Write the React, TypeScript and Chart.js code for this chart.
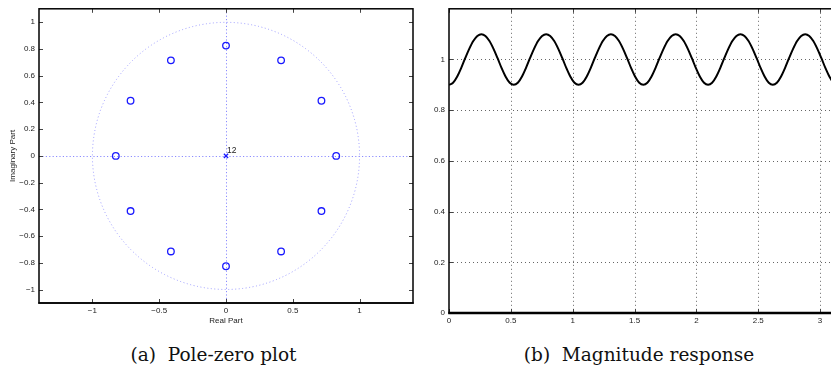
import { useEffect, useRef } from "react";
import { Chart, registerables } from "chart.js";

Chart.register(...registerables);

// Zeros of the comb filter (12 evenly spaced, radius ~0.825)
const zeroRe = [0.825, 0.7145, 0.4125, 0, -0.4125, -0.7145, -0.825, -0.7145, -0.4125, 0, 0.4125, 0.7145];
const zeroIm = [0, 0.4125, 0.7145, 0.825, 0.7145, 0.4125, 0, -0.4125, -0.7145, -0.825, -0.7145, -0.4125];

// Poles: a 12th-order pole at the origin
const poleRe = [0];
const poleIm = [0];
const poleOrder = ["12"];

const reTicks = [-1, -0.5, 0, 0.5, 1];
const imTicks = [-1, -0.8, -0.6, -0.4, -0.2, 0, 0.2, 0.4, 0.6, 0.8, 1];

// Magnitude response |H(w)| on 0..pi
const omega = [
  0, 0.0327, 0.0654, 0.0982, 0.1309, 0.1636, 0.1963, 0.2291,
  0.2618, 0.2945, 0.3272, 0.36, 0.3927, 0.4254, 0.4581, 0.4909,
  0.5236, 0.5563, 0.589, 0.6218, 0.6545, 0.6872, 0.7199, 0.7527,
  0.7854, 0.8181, 0.8508, 0.8836, 0.9163, 0.949, 0.9817, 1.0145,
  1.0472, 1.0799, 1.1126, 1.1454, 1.1781, 1.2108, 1.2435, 1.2763,
  1.309, 1.3417, 1.3744, 1.4072, 1.4399, 1.4726, 1.5053, 1.5381,
  1.5708, 1.6035, 1.6362, 1.669, 1.7017, 1.7344, 1.7671, 1.7999,
  1.8326, 1.8653, 1.898, 1.9308, 1.9635, 1.9962, 2.0289, 2.0617,
  2.0944, 2.1271, 2.1598, 2.1926, 2.2253, 2.258, 2.2907, 2.3235,
  2.3562, 2.3889, 2.4216, 2.4544, 2.4871, 2.5198, 2.5525, 2.5853,
  2.618, 2.6507, 2.6834, 2.7162, 2.7489, 2.7816, 2.8143, 2.8471,
  2.8798, 2.9125, 2.9452, 2.978, 3.0107, 3.0434, 3.0761, 3.1089,
  3.1416,
];
const magnitude = [
  0.9, 0.908, 0.932, 0.966, 1.005, 1.042, 1.073, 1.093,
  1.1, 1.093, 1.073, 1.042, 1.005, 0.966, 0.932, 0.908,
  0.9, 0.908, 0.932, 0.966, 1.005, 1.042, 1.073, 1.093,
  1.1, 1.093, 1.073, 1.042, 1.005, 0.966, 0.932, 0.908,
  0.9, 0.908, 0.932, 0.966, 1.005, 1.042, 1.073, 1.093,
  1.1, 1.093, 1.073, 1.042, 1.005, 0.966, 0.932, 0.908,
  0.9, 0.908, 0.932, 0.966, 1.005, 1.042, 1.073, 1.093,
  1.1, 1.093, 1.073, 1.042, 1.005, 0.966, 0.932, 0.908,
  0.9, 0.908, 0.932, 0.966, 1.005, 1.042, 1.073, 1.093,
  1.1, 1.093, 1.073, 1.042, 1.005, 0.966, 0.932, 0.908,
  0.9, 0.908, 0.932, 0.966, 1.005, 1.042, 1.073, 1.093,
  1.1, 1.093, 1.073, 1.042, 1.005, 0.966, 0.932, 0.908,
  0.9,
];
const omegaTicks = [0, 0.5, 1, 1.5, 2, 2.5, 3];
const magTicks = [0, 0.2, 0.4, 0.6, 0.8, 1];

const SANS = "'Liberation Sans', Arial, sans-serif";
const tickFont = { family: SANS, size: 8 };
const fmt = (v: number) => String(v).replace("-", "\u2212");

const fixedTicks = (values: number[]) => (axis: any) => {
  axis.ticks = values.map((value) => ({ value }));
};

// Box around the plot area with MATLAB-style inward tick marks
const framePlugin = (bottomWidth: number) => ({
  id: "frame",
  afterDatasetsDraw(chart: any) {
    const { ctx, chartArea, scales } = chart;
    const { left, right, top, bottom } = chartArea;
    ctx.save();
    ctx.strokeStyle = "#444";
    ctx.lineWidth = 1;
    ctx.beginPath();
    for (const t of scales.x.ticks) {
      const px = Math.round(scales.x.getPixelForValue(t.value)) + 0.5;
      ctx.moveTo(px, bottom);
      ctx.lineTo(px, bottom - 4);
      ctx.moveTo(px, top);
      ctx.lineTo(px, top + 4);
    }
    for (const t of scales.y.ticks) {
      const py = Math.round(scales.y.getPixelForValue(t.value)) + 0.5;
      ctx.moveTo(left, py);
      ctx.lineTo(left + 4, py);
      ctx.moveTo(right, py);
      ctx.lineTo(right - 4, py);
    }
    ctx.stroke();
    ctx.strokeStyle = "#000";
    ctx.lineWidth = 1.5;
    ctx.strokeRect(left, top, right - left, bottom - top);
    ctx.lineWidth = bottomWidth;
    ctx.beginPath();
    ctx.moveTo(left - 0.75, bottom);
    ctx.lineTo(right + 0.75, bottom);
    ctx.stroke();
    ctx.restore();
  },
});

// Unit circle and the real/imaginary axes, dotted
const zPlaneGuides = {
  id: "zPlaneGuides",
  beforeDatasetsDraw(chart: any) {
    const { ctx, chartArea, scales } = chart;
    const { left, right, top, bottom } = chartArea;
    const cx = scales.x.getPixelForValue(0);
    const cy = scales.y.getPixelForValue(0);
    const r = scales.x.getPixelForValue(1) - cx;
    ctx.save();
    ctx.strokeStyle = "#9a9aff";
    ctx.lineWidth = 1;
    ctx.setLineDash([1, 2.5]);
    ctx.beginPath();
    ctx.arc(cx, cy, r, 0, Math.PI * 2);
    ctx.stroke();
    ctx.strokeStyle = "#8c8cff";
    ctx.setLineDash([1.2, 2.2]);
    ctx.beginPath();
    ctx.moveTo(left, Math.round(cy) + 0.5);
    ctx.lineTo(right, Math.round(cy) + 0.5);
    ctx.moveTo(Math.round(cx) + 0.5, top);
    ctx.lineTo(Math.round(cx) + 0.5, bottom);
    ctx.stroke();
    ctx.restore();
  },
  afterDatasetsDraw(chart: any) {
    const { ctx, scales } = chart;
    ctx.save();
    ctx.fillStyle = "#222";
    ctx.font = `8.5px ${SANS}`;
    ctx.textAlign = "left";
    ctx.textBaseline = "bottom";
    poleRe.forEach((re, i) => {
      const px = scales.x.getPixelForValue(re);
      const py = scales.y.getPixelForValue(poleIm[i]);
      ctx.fillText(poleOrder[i], px + 1, py - 1);
    });
    ctx.restore();
  },
};

// Dotted grid for the magnitude plot
const dottedGrid = {
  id: "dottedGrid",
  beforeDatasetsDraw(chart: any) {
    const { ctx, chartArea, scales } = chart;
    const { left, right, top, bottom } = chartArea;
    ctx.save();
    ctx.strokeStyle = "rgba(0,0,0,0.6)";
    ctx.lineWidth = 1;
    ctx.setLineDash([1, 3]);
    ctx.beginPath();
    for (const t of scales.x.ticks) {
      if (t.value === 0) continue;
      const px = Math.round(scales.x.getPixelForValue(t.value)) + 0.5;
      ctx.moveTo(px, top);
      ctx.lineTo(px, bottom);
    }
    for (const t of scales.y.ticks) {
      if (t.value === 0) continue;
      const py = Math.round(scales.y.getPixelForValue(t.value)) + 0.5;
      ctx.moveTo(left, py);
      ctx.lineTo(right, py);
    }
    ctx.stroke();
    ctx.restore();
  },
};

function PoleZeroPlot() {
  const ref = useRef<HTMLCanvasElement>(null);
  useEffect(() => {
    const chart = new Chart(ref.current!, {
      type: "scatter",
      data: {
        datasets: [
          {
            label: "Zeros",
            data: zeroRe.map((x, i) => ({ x, y: zeroIm[i] })),
            pointStyle: "circle",
            pointRadius: 3.3,
            pointBorderWidth: 1.3,
            pointBorderColor: "#1a1aff",
            pointBackgroundColor: "rgba(0,0,0,0)",
          },
          {
            label: "Poles",
            data: poleRe.map((x, i) => ({ x, y: poleIm[i] })),
            pointStyle: "crossRot",
            pointRadius: 3,
            pointBorderWidth: 1.3,
            pointBorderColor: "#1a1aff",
          },
        ],
      },
      options: {
        animation: false,
        responsive: false,
        maintainAspectRatio: false,
        layout: { padding: { left: 0, top: 8, right: 7, bottom: 0 } },
        plugins: { legend: { display: false }, tooltip: { enabled: false } },
        scales: {
          x: {
            type: "linear",
            min: -1.4,
            max: 1.4,
            afterBuildTicks: fixedTicks(reTicks),
            afterFit: (s: any) => { s.height = 27; },
            grid: { display: false, drawTicks: false },
            border: { display: false },
            ticks: { font: tickFont, color: "#222", padding: 3, maxRotation: 0, callback: (v: any) => fmt(v) },
            title: { display: true, text: "Real Part", font: tickFont, color: "#222", padding: { top: 0, bottom: 4 } },
          },
          y: {
            type: "linear",
            min: -1.1,
            max: 1.1,
            afterBuildTicks: fixedTicks(imTicks),
            afterFit: (s: any) => { s.width = 39; },
            grid: { display: false, drawTicks: false },
            border: { display: false },
            ticks: { font: tickFont, color: "#222", padding: 4, callback: (v: any) => fmt(v) },
            title: { display: true, text: "Imaginary Part", font: tickFont, color: "#222", padding: { top: 8, bottom: 0 } },
          },
        },
      },
      plugins: [zPlaneGuides, framePlugin(1.5)],
    });
    return () => chart.destroy();
  }, []);
  return (
    <canvas ref={ref} width={420} height={330}
      style={{ position: "absolute", left: 0, top: 0, width: 420, height: 330 }} />
  );
}

function MagnitudePlot() {
  const ref = useRef<HTMLCanvasElement>(null);
  useEffect(() => {
    const chart = new Chart(ref.current!, {
      type: "scatter",
      data: {
        datasets: [
          {
            label: "|H(w)|",
            data: omega.map((x, i) => ({ x, y: magnitude[i] })),
            showLine: true,
            borderColor: "#000",
            borderWidth: 2,
            pointRadius: 0,
            cubicInterpolationMode: "monotone",
          },
        ],
      },
      options: {
        animation: false,
        responsive: false,
        maintainAspectRatio: false,
        layout: { padding: { left: 0, top: 5, right: 2.4, bottom: 0 } },
        plugins: { legend: { display: false }, tooltip: { enabled: false } },
        scales: {
          x: {
            type: "linear",
            min: 0,
            max: 3.1416,
            afterBuildTicks: fixedTicks(omegaTicks),
            afterFit: (s: any) => { s.height = 17; },
            grid: { display: false, drawTicks: false },
            border: { display: false },
            ticks: { font: tickFont, color: "#222", padding: 3, maxRotation: 0, callback: (v: any) => fmt(v) },
          },
          y: {
            type: "linear",
            min: 0,
            max: 1.2,
            afterBuildTicks: fixedTicks(magTicks),
            afterFit: (s: any) => { s.width = 29; },
            grid: { display: false, drawTicks: false },
            border: { display: false },
            ticks: { font: tickFont, color: "#222", padding: 4, callback: (v: any) => fmt(v) },
          },
        },
      },
      plugins: [dottedGrid, framePlugin(2.5)],
    });
    return () => chart.destroy();
  }, []);
  return (
    <canvas ref={ref} width={420} height={330}
      style={{ position: "absolute", left: 420, top: 0, width: 420, height: 330 }} />
  );
}

const captionStyle = {
  position: "absolute" as const,
  top: 345,
  width: 300,
  textAlign: "center" as const,
  whiteSpace: "pre" as const,
  fontFamily: "'DejaVu Serif', serif",
  fontSize: 18.5,
  lineHeight: "20px",
  color: "#111",
};

export default function App() {
  return (
    <div style={{ position: "fixed", left: 0, top: 0, width: 831, height: 372, overflow: "hidden", background: "#fff" }}>
      <PoleZeroPlot />
      <MagnitudePlot />
      <div style={{ ...captionStyle, left: 213.5 - 150 }}>{"(a)  Pole-zero plot"}</div>
      <div style={{ ...captionStyle, left: 639 - 150 }}>{"(b)  Magnitude response"}</div>
    </div>
  );
}
